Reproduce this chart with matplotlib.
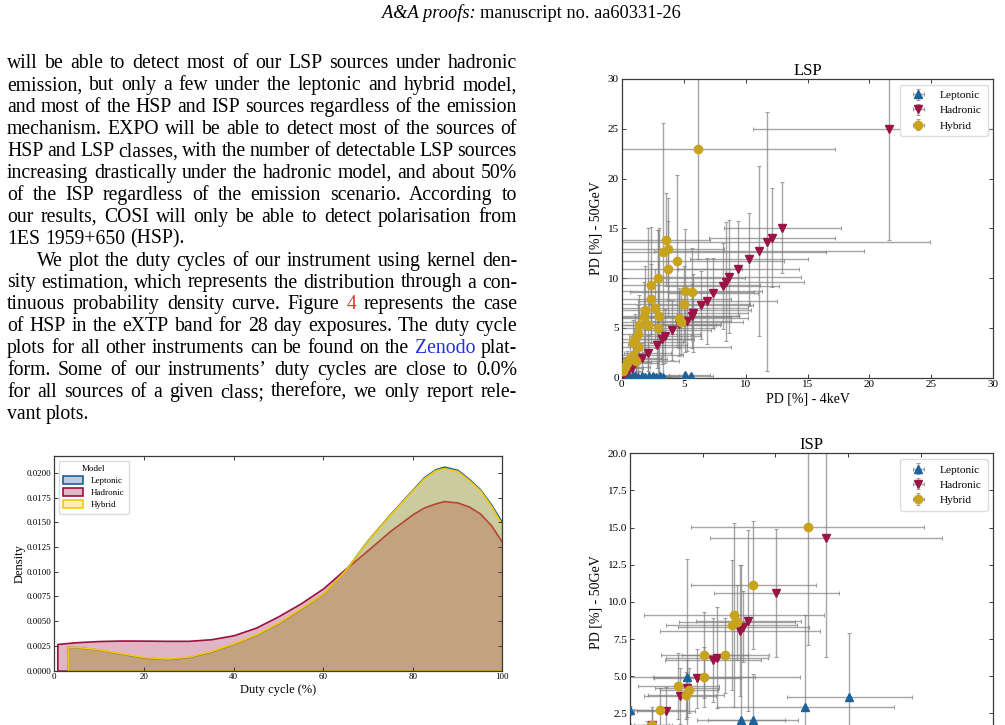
import matplotlib
matplotlib.use("Agg")
import matplotlib.pyplot as plt
from matplotlib.patches import Patch
from matplotlib.colors import to_rgba

plt.rcParams["font.family"] = ["Liberation Serif", "DejaVu Serif"]

W, H = 1005, 725

# ---------------- page text ----------------
header_italic = "A&A proofs:"
header_roman = "manuscript no. aa60331-26"

body_lines = [
    "will be able to detect most of our LSP sources under hadronic",
    "emission, but only a few under the leptonic and hybrid model,",
    "and most of the HSP and ISP sources regardless of the emission",
    "mechanism. EXPO will be able to detect most of the sources of",
    "HSP and LSP classes, with the number of detectable LSP sources",
    "increasing drastically under the hadronic model, and about 50%",
    "of the ISP regardless of the emission scenario. According to",
    "our results, COSI will only be able to detect polarisation from",
    "1ES 1959+650 (HSP).",
    "We plot the duty cycles of our instrument using kernel den-",
    "sity estimation, which represents the distribution through a con-",
    "tinuous probability density curve. Figure 4 represents the case",
    "of HSP in the eXTP band for 28 day exposures. The duty cycle",
    "plots for all other instruments can be found on the Zenodo plat-",
    "form. Some of our instruments\u2019 duty cycles are close to 0.0%",
    "for all sources of a given class; therefore, we only report rele-",
    "vant plots.",
]
ragged_lines = [8, 16]
indent_lines = [9]
link_words = {"4": "#e8302a", "Zenodo": "#2430e0"}

# ---------------- KDE (duty cycle, HSP, eXTP, 28 d) ----------------
duty_had = [0.67, 2.5, 5, 10, 15, 20, 25, 30, 35, 40, 45, 50, 55, 60, 65, 70, 75, 80,
            82.5, 85, 87, 90, 92.5, 95, 97.5, 100]
dens_had = [0.00270, 0.00278, 0.00288, 0.00300, 0.00305, 0.00304, 0.00302, 0.00302,
            0.00318, 0.00358, 0.00435, 0.00550, 0.00680, 0.00832, 0.01030, 0.01220,
            0.01414, 0.01582, 0.01650, 0.01690, 0.01714, 0.01700, 0.01660, 0.01590,
            0.01470, 0.01296]
duty_lep = [2.98, 5, 10, 15, 20, 25, 30, 35, 40, 45, 50, 55, 60, 65, 70, 75, 80,
            82.5, 85, 87, 90, 92.5, 95, 97.5, 100]
dens_lep = [0.00242, 0.00238, 0.00213, 0.00172, 0.00133, 0.00117, 0.00137, 0.00194,
            0.00271, 0.00362, 0.00480, 0.00625, 0.00778, 0.01020, 0.01322, 0.01585,
            0.01832, 0.01955, 0.02035, 0.02062, 0.02030, 0.01940, 0.01835, 0.01680,
            0.01495]
duty_hyb = [2.98, 5, 10, 15, 20, 25, 30, 35, 40, 45, 50, 55, 60, 65, 70, 75, 80,
            82.5, 85, 87, 90, 92.5, 95, 97.5, 100]
dens_hyb = [0.00244, 0.00240, 0.00216, 0.00176, 0.00138, 0.00122, 0.00142, 0.00199,
            0.00276, 0.00367, 0.00485, 0.00630, 0.00780, 0.01020, 0.01318, 0.01580,
            0.01825, 0.01945, 0.02025, 0.02048, 0.02018, 0.01928, 0.01825, 0.01665,
            0.01470]

# ---------------- LSP scatter: PD 4keV vs PD 50GeV ----------------
lsp_lep_x = [0.1, 0.3, 0.5, 0.7, 0.9, 1.1, 1.3, 1.6, 1.9, 2.2, 2.5, 2.8, 3.1, 3.3, 5.1, 5.6]
lsp_lep_y = [0.15, 0.1, 0.2, 0.1, 0.15, 0.2, 0.1, 0.15, 0.1, 0.2, 0.15, 0.1, 0.15, 0.1, 0.25, 0.2]
lsp_lep_xe = [0.3, 0.5, 0.6, 0.8, 1.0, 1.2, 0.9, 1.4, 1.1, 1.6, 1.3, 1.2, 1.5, 1.4, 2.0, 1.8]
lsp_lep_ye = [0.1, 0.1, 0.15, 0.1, 0.1, 0.15, 0.1, 0.1, 0.1, 0.15, 0.1, 0.1, 0.1, 0.1, 0.2, 0.15]

lsp_had_x = [21.6, 12.97, 12.14, 11.76, 11.09, 10.28, 9.42, 8.67, 8.40, 8.21, 7.37, 6.92,
             6.38, 5.79, 5.65, 5.30, 4.63, 4.09, 3.50, 3.23, 2.88, 2.10, 1.61, 1.16,
             0.81, 0.40, 0.13]
lsp_had_y = [25.0, 15.07, 14.06, 13.66, 12.72, 11.88, 10.95, 10.14, 9.64, 9.24, 8.54, 7.73,
             7.30, 6.53, 6.23, 5.72, 5.36, 4.79, 4.18, 3.88, 3.28, 2.44, 2.01, 1.54,
             1.00, 0.60, 0.27]
lsp_had_xe = [11.0, 4.7, 5.1, 13.1, 8.5, 4.8, 4.9, 5.8, 6.3, 4.5, 3.6, 5.6,
              4.2, 4.4, 3.8, 3.5, 3.4, 3.1, 2.9, 2.6, 2.4, 1.9, 1.6, 1.2,
              0.9, 0.5, 0.2]
lsp_had_ye = [11.2, 4.6, 5.0, 13.0, 8.5, 4.7, 4.8, 5.7, 6.0, 4.3, 3.5, 4.3,
              3.4, 3.9, 3.2, 3.0, 3.2, 3.0, 2.7, 2.5, 2.3, 1.8, 1.5, 1.1,
              0.8, 0.4, 0.2]

lsp_hyb_x = [6.19, 3.55, 3.74, 3.36, 4.49, 3.74, 2.93, 2.34, 2.34, 5.14, 5.68, 5.06,
             2.66, 1.91, 1.80, 3.01, 4.66, 4.79, 1.43, 2.13, 2.93, 1.32, 1.08, 0.91,
             1.35, 0.94, 0.67, 1.16, 0.40, 0.27, 0.13]
lsp_hyb_y = [22.97, 13.86, 12.92, 12.59, 11.72, 10.95, 10.04, 9.31, 7.87, 8.74, 8.64, 7.37,
             6.96, 6.76, 6.13, 6.16, 5.96, 5.62, 5.29, 5.29, 4.96, 4.35, 3.88, 3.62,
             3.11, 2.28, 1.87, 1.67, 1.44, 1.10, 0.67]
lsp_hyb_xe = [11.0, 3.6, 4.5, 13.1, 8.6, 6.0, 7.0, 8.8, 6.5, 6.2, 5.0, 5.3,
              7.5, 8.5, 7.0, 6.5, 5.5, 5.0, 6.5, 5.5, 4.5, 5.0, 4.5, 4.0,
              7.5, 4.0, 3.0, 3.5, 2.5, 2.0, 1.5]
lsp_hyb_ye = [11.0, 4.7, 5.1, 13.0, 8.6, 4.8, 4.8, 5.8, 3.5, 6.2, 4.4, 3.8,
              4.0, 4.5, 3.5, 8.9, 3.0, 3.2, 3.0, 9.7, 9.9, 3.0, 2.5, 2.2,
              2.5, 2.0, 1.5, 1.4, 1.2, 1.0, 0.6]

# ---------------- ISP scatter ----------------
isp_lep_x = [0.0, 3.90, 12.06, 15.09, 7.64, 8.49, 1.2, 3.0, 5.5]
isp_lep_y = [2.72, 4.92, 2.95, 3.62, 2.05, 2.05, 1.0, 0.6, 0.8]
isp_lep_xe = [1.5, 7.8, 6.1, 4.3, 3.0, 3.1, 1.5, 2.0, 2.5]
isp_lep_ye = [0.3, 8.0, 6.2, 4.3, 10.4, 3.1, 1.0, 0.6, 0.8]

isp_had_x = [13.49, 10.05, 8.14, 7.80, 7.57, 6.01, 5.73, 4.63, 3.94, 3.44, 2.48, 1.49, 0.8]
isp_had_y = [14.28, 10.62, 8.74, 8.33, 8.06, 6.25, 6.09, 4.86, 4.18, 3.67, 2.66, 1.71, 0.9]
isp_had_xe = [8.0, 4.3, 3.6, 4.5, 5.5, 3.5, 3.3, 3.0, 2.2, 2.5, 2.0, 1.2, 1.0]
isp_had_ye = [8.0, 4.3, 6.1, 2.4, 4.4, 3.4, 2.8, 2.0, 1.9, 1.9, 1.6, 1.0, 0.8]

isp_hyb_x = [12.22, 8.49, 7.18, 7.34, 7.00, 6.56, 5.11, 5.07, 3.33, 3.85, 4.06, 2.09, 1.49, 0.7]
isp_hyb_y = [15.02, 11.14, 9.12, 8.62, 8.44, 6.40, 6.40, 4.94, 4.34, 3.71, 4.05, 2.72, 1.71, 0.8]
isp_hyb_xe = [8.0, 4.3, 6.2, 4.0, 4.5, 3.0, 3.0, 3.5, 2.8, 2.6, 2.0, 1.8, 1.4, 1.0]
isp_hyb_ye = [7.9, 4.3, 6.2, 2.5, 4.4, 2.5, 2.9, 2.0, 2.2, 1.6, 1.5, 1.5, 1.2, 0.8]

models = ["Leptonic", "Hadronic", "Hybrid"]
pt_colors = ["#1b639b", "#9a1446", "#c8a41e"]
pt_markers = ["^", "v", "o"]
kde_colors = ["#1d5f9d", "#9b0f42", "#f2c80c"]
err_color = (0.5, 0.5, 0.5, 0.7)
spine_col = "#3a3a3a"


def px_axes(left, top, right, bottom):
    return fig.add_axes([left / W, 1 - bottom / H, (right - left) / W, (bottom - top) / H])


def style_axes(ax, size):
    ax.tick_params(direction="in", top=True, right=True, labelsize=size,
                   length=3, width=0.7, color=spine_col, pad=2)
    for s in ax.spines.values():
        s.set_color(spine_col)
        s.set_linewidth(0.9)


fig = plt.figure(figsize=(W / 100, H / 100), dpi=100)
renderer = fig.canvas.get_renderer()

# ---------------- text column (justified word by word) ----------------
fs_body = 14.2
x_left, x_right = 7.0, 517.0
for i, line in enumerate(body_lines):
    base = 68.5 + i * 21.9
    x0 = 36.7 if i in indent_lines else x_left
    words = line.split(" ")
    texts = []
    for w in words:
        t = fig.text(0, 1 - base / H, w, fontsize=fs_body, va="baseline", ha="left",
                     color=link_words.get(w, "black"))
        texts.append(t)
    widths = [t.get_window_extent(renderer).width for t in texts]
    if i in ragged_lines or len(words) == 1:
        gap = 0.25 * fs_body * 100 / 72
    else:
        gap = (x_right - x0 - sum(widths)) / (len(words) - 1)
    x = x0
    for t, wd in zip(texts, widths):
        t.set_x(x / W)
        x += wd + gap

fs_head = 13.2
h1 = fig.text(381.7 / W, 1 - 18.0 / H, header_italic, fontsize=fs_head, style="italic",
              va="baseline", ha="left")
w1 = h1.get_window_extent(renderer).width
fig.text((381.7 + w1 + 0.25 * fs_head * 100 / 72) / W, 1 - 18.0 / H, header_roman,
         fontsize=fs_head, va="baseline", ha="left")

# ---------------- KDE panel ----------------
axk = px_axes(54.3, 456.0, 502.3, 670.7)
kde_sets = [(duty_lep, dens_lep), (duty_had, dens_had), (duty_hyb, dens_hyb)]
for (xs, ys), c in zip(kde_sets, kde_colors):
    axk.fill_between(xs, 0, ys, facecolor=to_rgba(c, 0.3), edgecolor=c, linewidth=1.2)
axk.set_xlim(0, 100)
axk.set_ylim(0, 0.0217)
axk.set_xticks([0, 20, 40, 60, 80, 100])
axk.set_yticks([0.0, 0.0025, 0.005, 0.0075, 0.01, 0.0125, 0.015, 0.0175, 0.02])
axk.yaxis.set_major_formatter(plt.FormatStrFormatter("%.4f"))
style_axes(axk, 6.5)
axk.set_xlabel("Duty cycle (%)", fontsize=9, labelpad=2)
axk.set_ylabel("Density", fontsize=9, labelpad=1)
handles = [Patch(facecolor=to_rgba(c, 0.3), edgecolor=c, linewidth=1.2) for c in kde_colors]
axk.legend(handles, models, title="Model", loc="upper left", fontsize=6.5,
           title_fontsize=6.5, handlelength=2.2, handleheight=0.9, borderpad=0.5,
           labelspacing=0.35, fancybox=True, framealpha=1, edgecolor="#dddddd")


def scatter_panel(ax, sets):
    for (xs, ys, xe, ye), c, m, lab in zip(sets, pt_colors, pt_markers, models):
        cont = ax.errorbar(xs, ys, xerr=xe, yerr=ye, fmt=m, color=c, ms=6,
                           ecolor=err_color, elinewidth=1.0, capsize=1.6, capthick=0.8,
                           label=lab)
        cont[0].set_zorder(5)
    ax.legend(loc="upper right", fontsize=8.2, borderpad=0.5, labelspacing=0.45,
              handlelength=2.2, fancybox=True, framealpha=1, edgecolor="#dddddd")
    style_axes(ax, 8)


# ---------------- LSP panel ----------------
ax1 = px_axes(621.7, 79.0, 993.3, 377.7)
scatter_panel(ax1, [(lsp_lep_x, lsp_lep_y, lsp_lep_xe, lsp_lep_ye),
                    (lsp_had_x, lsp_had_y, lsp_had_xe, lsp_had_ye),
                    (lsp_hyb_x, lsp_hyb_y, lsp_hyb_xe, lsp_hyb_ye)])
ax1.set_xlim(0, 30)
ax1.set_ylim(0, 30)
ax1.set_xticks([0, 5, 10, 15, 20, 25, 30])
ax1.set_yticks([0, 5, 10, 15, 20, 25, 30])
ax1.set_title("LSP", fontsize=12, pad=3)
ax1.set_xlabel("PD [%] - 4keV", fontsize=10, labelpad=2)
ax1.set_ylabel("PD [%] - 50GeV", fontsize=10, labelpad=4)

# ---------------- ISP panel (its lower part lies beyond the page edge) ----------------
ax2 = px_axes(630.0, 453.3, 993.3, 750.5)
scatter_panel(ax2, [(isp_lep_x, isp_lep_y, isp_lep_xe, isp_lep_ye),
                    (isp_had_x, isp_had_y, isp_had_xe, isp_had_ye),
                    (isp_hyb_x, isp_hyb_y, isp_hyb_xe, isp_hyb_ye)])
ax2.set_xlim(0, 25)
ax2.set_ylim(0, 20)
ax2.set_xticks([0, 5, 10, 15, 20, 25])
ax2.set_yticks([2.5, 5, 7.5, 10, 12.5, 15, 17.5, 20])
ax2.tick_params(labelbottom=False)
ax2.set_title("ISP", fontsize=12, pad=3)
ax2.set_ylabel("PD [%] - 50GeV", fontsize=10, labelpad=4)

fig.savefig("out.png", dpi=100)
